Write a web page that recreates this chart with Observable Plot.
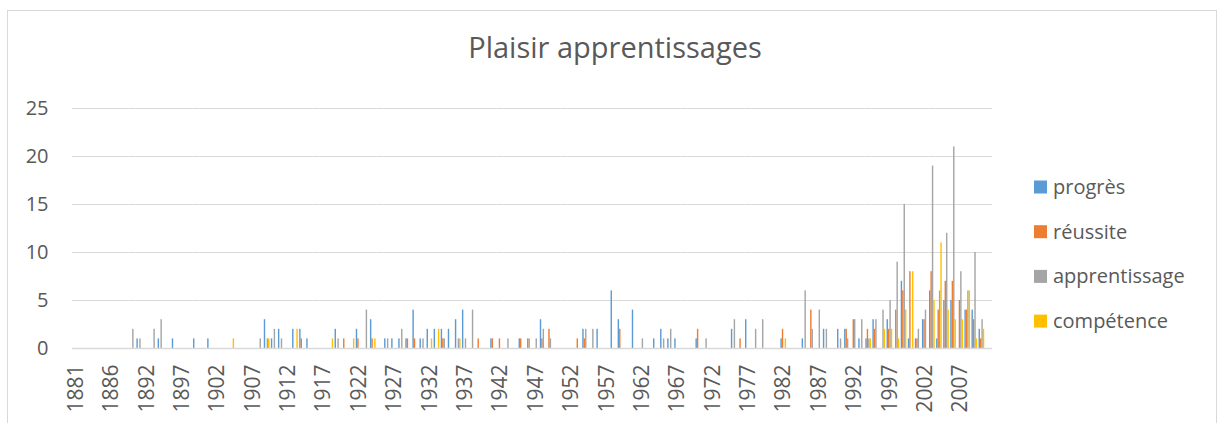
<!DOCTYPE html>
<html><head><meta charset="utf-8">
<script src="https://cdn.jsdelivr.net/npm/d3@7"></script>
<script src="https://cdn.jsdelivr.net/npm/@observablehq/plot@0.6"></script>
<style>
html,body{margin:0;padding:0;background:#fff;overflow:hidden;}
#wrap{position:relative;width:1220px;height:423px;overflow:hidden;font-family:"Open Sans",sans-serif;background:#fff;}
#wrap svg{position:absolute;left:0;top:0;}
#frame{position:absolute;left:7px;top:10px;width:1208px;height:440px;border:1px solid #d9d9d9;pointer-events:none;}
</style></head><body><div id="wrap"></div>
<script>
// Categories: years (1891 absent from the source category list)
const years = d3.range(1881, 2012).filter(y => y !== 1891);
const tickYears = [1881,1886,1892,1897,1902,1907,1912,1917,1922,1927,1932,1937,1942,1947,1952,1957,1962,1967,1972,1977,1982,1987,1992,1997,2002,2007];
const series = ["progrès", "réussite", "apprentissage", "compétence"];
const colors = ["#5B9BD5", "#ED7D31", "#A5A5A5", "#FFC000"];

const progres = [
  0,0,0,0,0,0,0,0,0,1,
  0,0,1,0,1,0,0,1,0,1,
  0,0,0,0,0,0,0,3,1,2,
  0,2,2,1,0,0,0,2,0,0,
  2,0,3,0,1,1,1,1,4,1,
  2,2,2,2,3,4,0,0,0,1,
  0,0,0,1,0,0,3,0,0,0,
  0,0,2,0,2,0,6,3,0,4,
  0,0,1,2,1,1,0,0,1,0,
  0,0,0,2,0,3,0,0,0,0,
  1,0,0,1,0,0,2,0,2,2,
  0,1,1,3,0,3,0,7,1,1,
  3,6,1,5,5,0,4,4,2,0
];
const reussite = [
  0,0,0,0,0,0,0,0,0,0,
  0,0,0,0,0,0,0,0,0,0,
  0,0,0,0,0,0,0,0,0,0,
  0,0,1,0,0,0,0,0,1,0,
  1,0,1,0,0,0,0,1,1,0,
  0,0,1,0,0,0,0,1,0,1,
  1,0,0,1,1,0,1,2,0,0,
  0,1,1,0,0,0,0,2,0,0,
  0,0,0,0,0,0,0,0,2,0,
  0,0,0,0,1,0,0,0,0,0,
  2,0,0,0,4,0,0,0,0,2,
  3,0,2,2,0,2,4,6,8,1,
  3,8,4,7,7,5,4,3,1,0
];
const apprentissage = [
  0,0,0,0,0,0,0,0,2,1,
  0,2,3,0,0,0,0,0,0,0,
  0,0,0,0,0,0,1,1,2,1,
  0,0,0,0,0,0,0,1,0,0,
  0,4,0,0,1,0,2,0,0,1,
  0,0,1,0,1,1,4,0,0,0,
  0,1,0,0,1,1,2,1,0,0,
  0,0,2,2,0,0,0,0,0,0,
  1,0,0,1,2,0,0,0,0,1,
  0,0,0,3,0,0,2,3,0,0,
  0,0,0,6,2,4,2,0,1,1,
  3,3,1,3,4,5,9,15,0,2,
  4,19,6,12,21,8,6,10,3,0
];
const competence = [
  0,0,0,0,0,0,0,0,0,0,
  0,0,0,0,0,0,0,0,0,0,
  0,0,1,0,0,0,0,1,0,0,
  0,2,0,0,0,0,1,0,0,1,
  0,0,1,0,0,0,0,0,0,0,
  1,2,0,0,1,0,0,0,0,0,
  0,0,0,0,0,0,0,0,0,0,
  0,0,0,0,0,0,0,0,0,0,
  0,0,0,0,0,0,0,0,0,0,
  0,0,0,0,0,0,0,0,0,0,
  1,0,0,0,0,0,0,0,0,0,
  0,0,1,0,2,2,1,4,8,0,
  0,5,11,4,3,3,6,1,2,0
];
const yTicks = [0, 5, 10, 15, 20, 25];

const seriesValues = [progres, reussite, apprentissage, competence];
// one row per year and series (zero values included so every facet exists)
const rows = [];
years.forEach((year, i) => {
  series.forEach((s, j) => {
    rows.push({year, series: s, value: seriesValues[j][i]});
  });
});

const chart = Plot.plot({
  width: 1220,
  height: 423,
  marginLeft: 72,
  marginRight: 228,
  marginTop: 108,
  marginBottom: 75,
  style: {fontFamily: '"Open Sans", sans-serif', fontSize: "20px", color: "#595959", background: "transparent"},
  fx: {domain: years, padding: 0, round: false, axis: null},
  x: {domain: series, paddingInner: 0, paddingOuter: 0.5, round: false, axis: null},
  y: {domain: [0, 25], axis: null},
  color: {domain: series, range: colors},
  marks: [
    Plot.gridY(yTicks, {stroke: "#d9d9d9", strokeOpacity: 1, strokeWidth: 1}),
    Plot.barY(rows, {fx: "year", x: "series", y: "value", fill: "series", insetLeft: 0, insetRight: 0,
      filter: d => d.value > 0}),
    Plot.ruleY(rows, {fx: "year", y: 0, stroke: "#d9d9d9", strokeWidth: 1.5, filter: d => d.series === series[0]}),
    Plot.axisY({ticks: yTicks, tickSize: 0, tickPadding: 24, label: null, fill: "#595959", facetAnchor: "left"}),
    Plot.text(tickYears, {fx: d => d, text: d => String(d), frameAnchor: "bottom", rotate: -90,
      textAnchor: "end", lineAnchor: "middle", dy: 16, fontSize: 21, fill: "#595959"})
  ]
});

const wrap = document.getElementById("wrap");
wrap.appendChild(chart);

// Title and legend overlay
const ov = d3.select(wrap).append("svg")
  .attr("width", 1220).attr("height", 423)
  .style("font-family", '"Open Sans", sans-serif');
ov.append("text")
  .attr("x", 615).attr("y", 58)
  .attr("text-anchor", "middle")
  .attr("font-size", 29)
  .attr("fill", "#595959")
  .text("Plaisir apprentissages");
const leg = ov.selectAll("g.leg").data(series).join("g")
  .attr("class", "leg")
  .attr("transform", (d, i) => `translate(1034,${194 + i * 44.7})`);
leg.append("rect").attr("x", 0).attr("y", -13.5).attr("width", 13).attr("height", 13)
  .attr("fill", (d, i) => colors[i]);
leg.append("text").attr("x", 19).attr("y", 0)
  .attr("font-size", 20).attr("fill", "#595959").text(d => d);

const frame = document.createElement("div");
frame.id = "frame";
wrap.appendChild(frame);
</script>
</body></html>
